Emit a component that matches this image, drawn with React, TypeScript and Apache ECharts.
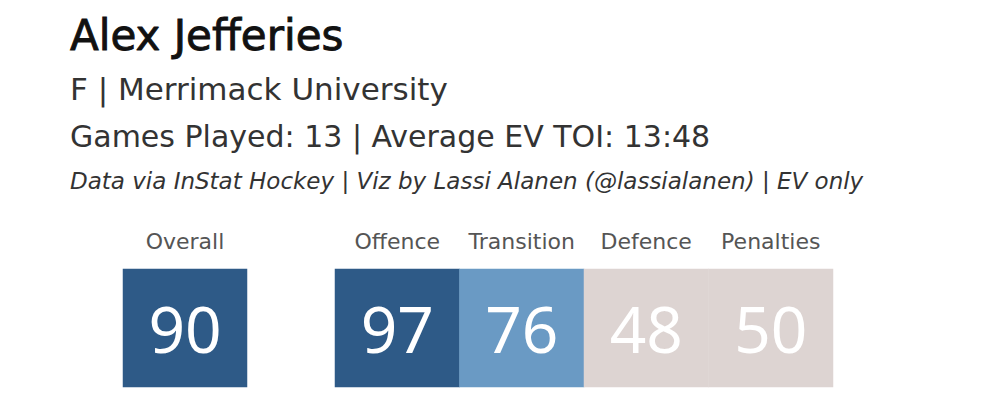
import React, { useEffect, useRef } from "react";
import * as echarts from "echarts";

const playerName = "Alex Jefferies";
const subtitleLines = [
  "F | Merrimack University",
  "Games Played: 13 | Average EV TOI: 13:48",
];
const creditLine = "Data via InStat Hockey | Viz by Lassi Alanen (@lassialanen) | EV only";

const overallCategories = ["Overall"];
const overallValues = [90];
const componentCategories = ["Offence", "Transition", "Defence", "Penalties"];
const componentValues = [97, 76, 48, 50];

const FONT = "DejaVu Sans";
const NUM_FONT = "Noto Sans";

export default function App() {
  const chartRef = useRef<HTMLDivElement>(null);

  useEffect(() => {
    const chart = echarts.init(chartRef.current!, null, { renderer: "svg" });

    const axisPair = (cats: string[], gridIndex: number) => ({
      x: {
        type: "category",
        gridIndex,
        data: cats,
        position: "top",
        axisLine: { show: false },
        axisTick: { show: false },
        splitLine: { show: false },
        axisLabel: {
          color: "#555",
          fontSize: 22,
          fontFamily: FONT,
          margin: 17,
          interval: 0,
        },
      },
      y: {
        type: "category",
        gridIndex,
        data: [""],
        axisLine: { show: false },
        axisTick: { show: false },
        axisLabel: { show: false },
        splitLine: { show: false },
      },
    });
    const a0 = axisPair(overallCategories, 0);
    const a1 = axisPair(componentCategories, 1);

    const cellLabel = {
      show: true,
      color: "#fff",
      fontSize: 64,
      fontFamily: NUM_FONT,
      formatter: (p: any) => String(p.value[2]),
    };

    chart.setOption({
      animation: false,
      backgroundColor: "#fff",
      title: [
        {
          text: playerName,
          left: 65,
          top: 9,
          textStyle: {
            fontSize: 42,
            fontWeight: "normal",
            color: "#111",
            fontFamily: FONT,
            // tableau's title is a semi-bold cut, thicken the regular face a bit
            textBorderColor: "#111",
            textBorderWidth: 0.9,
          },
        },
        {
          text: subtitleLines[0],
          left: 65,
          top: 68,
          textStyle: { fontSize: 31, fontWeight: "normal", color: "#333", fontFamily: FONT },
        },
        {
          text: subtitleLines[1],
          left: 65,
          top: 116,
          textStyle: { fontSize: 30, fontWeight: "normal", color: "#333", fontFamily: FONT },
        },
        {
          text: creditLine,
          left: 65,
          top: 164,
          textStyle: {
            fontSize: 23,
            fontWeight: "normal",
            fontStyle: "italic",
            color: "#333",
            fontFamily: FONT,
          },
        },
      ],
      grid: [
        { left: 123, top: 269, width: 124, height: 118 },
        { left: 335, top: 269, width: 498, height: 118 },
      ],
      xAxis: [a0.x, a1.x],
      yAxis: [a0.y, a1.y],
      visualMap: {
        type: "piecewise",
        show: false,
        dimension: 2,
        seriesIndex: [0, 1],
        pieces: [
          { gte: 85, color: "#2e5a87" },
          { gte: 65, lt: 85, color: "#6a9ac4" },
          { lt: 65, color: "#ddd4d2" },
        ],
      },
      series: [
        {
          type: "heatmap",
          xAxisIndex: 0,
          yAxisIndex: 0,
          data: overallValues.map((v, i) => [i, 0, v]),
          label: cellLabel,
          emphasis: { disabled: true },
        },
        {
          type: "heatmap",
          xAxisIndex: 1,
          yAxisIndex: 1,
          data: componentValues.map((v, i) => [i, 0, v]),
          label: cellLabel,
          emphasis: { disabled: true },
        },
      ],
    });

    return () => {
      chart.dispose();
    };
  }, []);

  return (
    <div style={{ position: "fixed", left: 0, top: 0, width: 992, height: 410 }}>
      <div ref={chartRef} style={{ width: 992, height: 410 }} />
    </div>
  );
}
